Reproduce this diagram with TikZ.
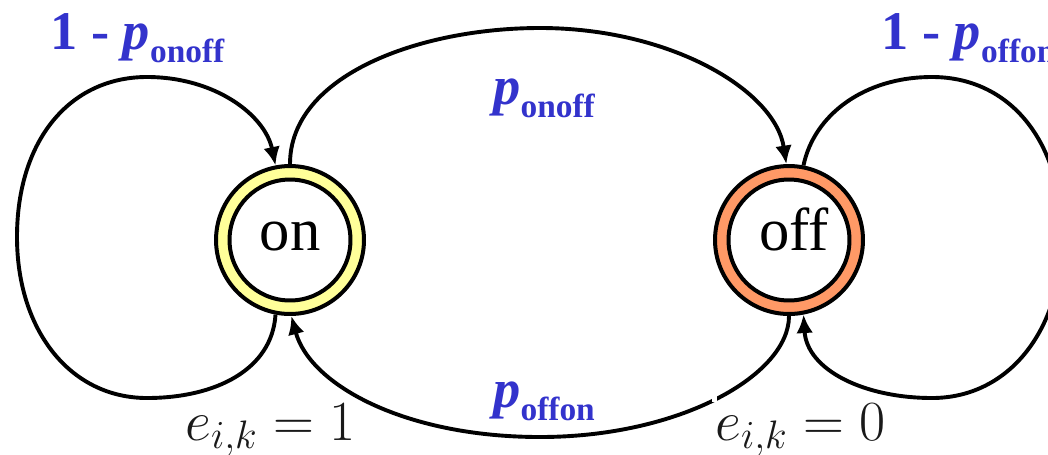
\RequirePackage{fix-cm}
\documentclass[tikz,border=0pt]{standalone}
\usepackage[no-math]{fontspec}
\newfontfamily\tnr{Liberation Serif}
\usetikzlibrary{arrows.meta}
\definecolor{pblue}{RGB}{51,51,204}
\definecolor{onyellow}{RGB}{255,255,153}
\definecolor{offorange}{RGB}{255,153,102}
\newcommand\psub[1]{\raisebox{-7.4pt}{\fontsize{19}{19}\selectfont #1}}
\tikzset{
  ring/.style={circle, draw=black, line width=0.08cm, minimum size=2.96cm, inner sep=0},
  hole/.style={circle, draw=black, fill=white, line width=0.08cm, minimum size=2.42cm, inner sep=0},
  statetext/.style={anchor=base, inner sep=0, font=\tnr\fontsize{34.5}{34.5}\selectfont},
  plbl/.style={anchor=base west, inner sep=0, text=pblue, font=\tnr\bfseries\fontsize{31}{31}\selectfont},
  elbl/.style={anchor=base west, inner sep=0, text=black!90, font=\fontsize{32.3}{36}\selectfont},
  edge/.style={line width=0.078cm, -{Latex[length=10.5pt,width=9.5pt]}},
}
\begin{document}
\begin{tikzpicture}[x=0.02cm,y=-0.02cm]
\useasboundingbox (0,0) rectangle (1048,454);
\clip (0,0) rectangle (1048,454);
% states
\node[ring, fill=onyellow] (on) at (290,240) {};
\node[hole] (onin) at (290,240) {};
\node[statetext] (ontxt) at (290,250) {on};
\node[ring, fill=offorange] (off) at (789,240) {};
\node[hole] (offin) at (789,240) {};
\node[statetext] (offtxt) at (794,250) {off};
% transitions
\draw[edge] (on.90) .. controls (290,75) and (420,28) .. (540,28)
  .. controls (670,28) and (775,90) .. (off.92);
\draw[edge] (off.270) .. controls (789,375) and (680,437) .. (540,437)
  .. controls (405,437) and (310,385) .. (on.271);
\draw[edge] (on.259) .. controls (272,370) and (215,398) .. (147,398)
  .. controls (70,398) and (17,330) .. (17,237)
  .. controls (17,140) and (70,77) .. (147,77)
  .. controls (215,77) and (265,115) .. (on.101);
\draw[edge] (off.79) .. controls (814,115) and (864,77) .. (932,77)
  .. controls (1009,77) and (1062,140) .. (1062,237)
  .. controls (1062,330) and (1009,398) .. (932,398)
  .. controls (864,398) and (807,370) .. (off.281);
\fill[white] (712,384) rectangle (717,402);
% labels
\node[plbl] (lself) at (50,49) {1 - \textit{p}\psub{onoff}};
\node[plbl] (rself) at (881,49) {1 - \textit{p}\psub{offon}};
\node[plbl] (ptop) at (493,104) {\textit{p}\psub{onoff}};
\node[plbl] (pbot) at (493,407) {\textit{p}\psub{offon}};
\node[elbl] (eon) at (185,440) {$e_{i,k} = 1$};
\node[elbl] (eoff) at (715,440) {$e_{i,k} = 0$};
\end{tikzpicture}
\end{document}
